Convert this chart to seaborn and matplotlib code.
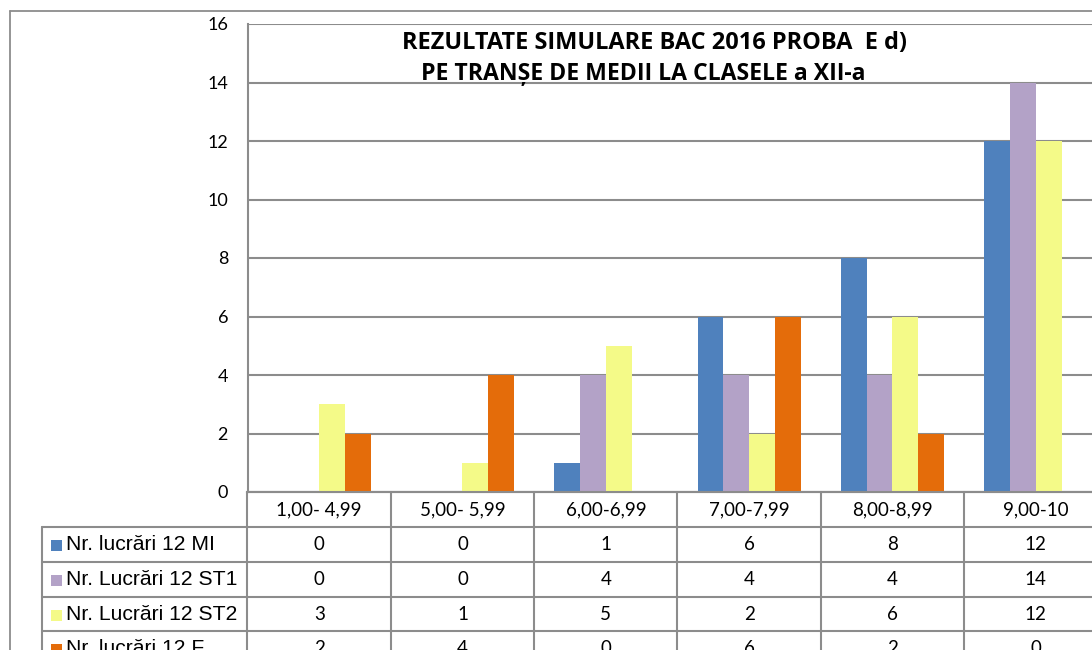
import matplotlib
matplotlib.use("Agg")
import matplotlib.pyplot as plt
import matplotlib.transforms as mtransforms
from matplotlib.patches import Rectangle
import seaborn as sns
import pandas as pd

categories = ["1,00- 4,99", "5,00- 5,99", "6,00-6,99", "7,00-7,99", "8,00-8,99", "9,00-10"]
series_names = ["Nr. lucrări 12 MI", "Nr. Lucrări 12 ST1", "Nr. Lucrări 12 ST2", "Nr. lucrări 12 F"]
mi = [0, 0, 1, 6, 8, 12]
st1 = [0, 0, 4, 4, 4, 14]
st2 = [3, 1, 5, 2, 6, 12]
f = [2, 4, 0, 6, 2, 0]
colors = ["#4F81BD", "#B3A2C7", "#F4FA88", "#E46C0A"]
title_lines = ["REZULTATE SIMULARE BAC 2016 PROBA  E d)", "PE TRANȘE DE MEDII LA CLASELE a XII-a"]

values = [mi, st1, st2, f]
rows = []
for name, vals in zip(series_names, values):
    for c, v in zip(categories, vals):
        rows.append({"cat": c, "val": v, "series": name})
df = pd.DataFrame(rows)

sns.set_theme(style="white")
plt.rcParams["font.family"] = ["Lato", "DejaVu Sans"]

W, H = 1092, 650
fig = plt.figure(figsize=(W / 100, H / 100), dpi=100)
fig.patch.set_facecolor("white")

def fx(px):
    return px / W

def fy(py):
    return 1 - py / H

left_px, right_px, top_px, bot_px = 247.5, 1107.5, 24, 492
ax = fig.add_axes([fx(left_px), fy(bot_px), fx(right_px - left_px), (bot_px - top_px) / H])

sns.barplot(data=df, x="cat", y="val", hue="series", order=categories,
            hue_order=series_names, palette=colors, width=0.72, saturation=1,
            gap=0, ax=ax, legend=False, edgecolor="none", linewidth=0, zorder=3)

grid_c = "#8C8C8C"
ax.set_xlim(-0.5, len(categories) - 0.5)
ax.set_ylim(0, 16)
ax.set_yticks(range(0, 17, 2))
ax.yaxis.grid(True, color=grid_c, linewidth=1.5, zorder=0)
ax.set_axisbelow(True)
ax.set_xticks([])
ax.set_xlabel("")
ax.set_ylabel("")
ax.tick_params(axis="y", length=0, pad=14, labelsize=13, labelcolor="black")
for s in ["top", "right"]:
    ax.spines[s].set_visible(False)
for s in ["left", "bottom"]:
    ax.spines[s].set_color(grid_c)
    ax.spines[s].set_linewidth(1.5)
    ax.spines[s].set_zorder(4)

# Title
fig.text(fx(654), fy(42.5), title_lines[0], ha="center", va="center", fontsize=16.9,
         fontweight="bold", color="black", family=["Open Sans", "DejaVu Sans"])
fig.text(fx(643.5), fy(73.5), title_lines[1], ha="center", va="center", fontsize=16.6,
         fontweight="bold", color="black", family=["Open Sans", "DejaVu Sans"])

# Outer chart frame
fig.add_artist(plt.Line2D([fx(10), 1.0], [fy(11), fy(11)], color=grid_c, linewidth=1.3))
fig.add_artist(plt.Line2D([fx(10), fx(10)], [fy(11), 0], color=grid_c, linewidth=1.3))

# Data table
bt = mtransforms.blended_transform_factory(ax.transData, fig.transFigure)
row_edges = [492, 527, 562, 597, 631, 666]
table_left_px = 42
n = len(categories)
ax.add_line(plt.Line2D([-0.5, n - 0.5], [fy(492), fy(492)], transform=bt, color=grid_c, lw=1.5, clip_on=False))
for y in row_edges[1:]:
    fig.add_artist(plt.Line2D([fx(table_left_px), 1.0], [fy(y), fy(y)], color=grid_c, lw=1.5))
for i in range(n + 1):
    ax.add_line(plt.Line2D([i - 0.5, i - 0.5], [fy(492), 0], transform=bt, color=grid_c, lw=1.5, clip_on=False))
fig.add_artist(plt.Line2D([fx(table_left_px), fx(table_left_px)], [fy(527), 0], color=grid_c, lw=1.5))

for i, c in enumerate(categories):
    ax.text(i, fy(510), c, transform=bt, ha="center", va="center", fontsize=13.5, color="black", clip_on=False)

for r, (name, vals, col) in enumerate(zip(series_names, values, colors)):
    yc = (row_edges[r + 1] + row_edges[r + 2]) / 2
    fig.add_artist(Rectangle((fx(50.5), fy(yc + 6.5)), fx(11), 11 / H, facecolor=col, edgecolor="none"))
    fig.text(fx(66), fy(yc), name, ha="left", va="center", fontsize=15.2,
             family=["Liberation Sans", "DejaVu Sans"], color="black")
    for i, v in enumerate(vals):
        ax.text(i, fy(yc), str(v), transform=bt, ha="center", va="center", fontsize=13.5, color="black", clip_on=False)

fig.savefig("out.png", dpi=100, facecolor="white")
